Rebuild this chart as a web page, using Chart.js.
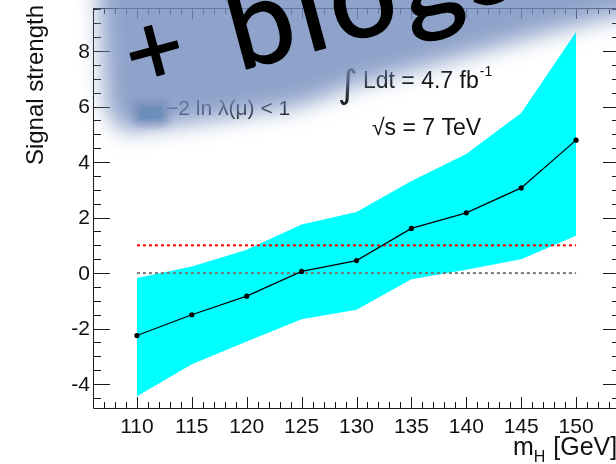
<!DOCTYPE html>
<html>
<head>
<meta charset="utf-8">
<script src="https://cdn.jsdelivr.net/npm/chart.js@4.4.1/dist/chart.umd.min.js"></script>
<style>
  html, body { margin: 0; padding: 0; background: #fff; overflow: hidden; }
  #wrap { width: 630px; height: 464px; }
</style>
</head>
<body>
<div id="wrap"><canvas id="c" width="630" height="464"></canvas></div>
<script>
// Higgs mass hypotheses (GeV)
const massPoints = [110, 115, 120, 125, 130, 135, 140, 145, 150];
// best-fit signal strength
const muBest  = [-2.25, -1.50, -0.83, 0.06, 0.45, 1.61, 2.17, 3.07, 4.79];
// -2 ln lambda(mu) < 1 interval
const muUpper = [-0.18, 0.24, 0.84, 1.75, 2.20, 3.32, 4.29, 5.77, 8.69];
const muLower = [-4.44, -3.28, -2.46, -1.66, -1.32, -0.22, 0.12, 0.50, 1.35];
// reference levels: SM expectation and background only
const muSM = 1;
const muBkg = 0;
// axis tick labels
const xTickLabels = ['110', '115', '120', '125', '130', '135', '140', '145', '150'];
const yTickLabels = ['-4', '-2', '0', '2', '4', '6', '8'];

const LABEL_FONT = '"Liberation Sans", Arial, Helvetica, sans-serif';

const rootFrame = {
  id: 'rootFrame',
  afterDraw(chart) {
    const ctx = chart.ctx;
    const a = chart.chartArea;
    const xs = chart.scales.x, ys = chart.scales.y;
    ctx.save();
    ctx.strokeStyle = '#1a1a1a';
    ctx.lineWidth = 1;
    ctx.beginPath();
    ctx.rect(a.left + 0.5, a.top + 0.5, a.right - a.left, a.bottom - a.top);
    ctx.stroke();

    // x ticks (inward, bottom and top)
    ctx.beginPath();
    for (let v = Math.ceil(xs.min); v <= xs.max; v++) {
      const px = Math.round(xs.getPixelForValue(v)) + 0.5;
      const len = (v % 5 === 0) ? 11 : 6;
      ctx.moveTo(px, a.bottom); ctx.lineTo(px, a.bottom - len);
      ctx.moveTo(px, a.top); ctx.lineTo(px, a.top + len);
    }
    // y ticks (inward, left and right)
    for (let v = Math.ceil(ys.min * 2) / 2; v <= ys.max; v += 0.5) {
      const py = Math.round(ys.getPixelForValue(v)) + 0.5;
      const len = (Math.abs(v % 2) < 1e-6) ? 17 : 8;
      ctx.moveTo(a.left, py); ctx.lineTo(a.left + len, py);
      ctx.moveTo(a.right, py); ctx.lineTo(a.right - len, py);
    }
    ctx.stroke();

    // tick labels
    ctx.fillStyle = '#111';
    ctx.font = '21px ' + LABEL_FONT;
    ctx.textAlign = 'center';
    ctx.textBaseline = 'alphabetic';
    xTickLabels.forEach(t => {
      ctx.fillText(t, xs.getPixelForValue(parseFloat(t)), 433);
    });
    ctx.textAlign = 'right';
    ctx.textBaseline = 'middle';
    yTickLabels.forEach(t => {
      ctx.fillText(t, 90, ys.getPixelForValue(parseFloat(t)) + 1);
    });

    // axis titles
    ctx.textBaseline = 'alphabetic';
    ctx.font = '24px ' + LABEL_FONT;
    ctx.save();
    ctx.translate(43, 5);
    ctx.rotate(-Math.PI / 2);
    ctx.textAlign = 'right';
    ctx.fillText('Signal strength', 0, 0);
    ctx.restore();

    ctx.textAlign = 'left';
    let x = 513;
    ctx.font = '25px ' + LABEL_FONT;
    ctx.fillText('m', x, 455);
    x += ctx.measureText('m').width;
    ctx.font = '16px ' + LABEL_FONT;
    ctx.fillText('H', x, 462);
    x += ctx.measureText('H').width + 1;
    ctx.font = '25px ' + LABEL_FONT;
    ctx.fillText(' [GeV]', x, 455);

    // legend entry
    ctx.fillStyle = '#00ffff';
    ctx.fillRect(140, 107, 22, 12);
    ctx.fillStyle = '#111';
    ctx.font = '21px ' + LABEL_FONT;
    ctx.fillText('\u22122 ln \u03bb(\u03bc) < 1', 166, 115);

    // luminosity and energy
    ctx.font = '38px "DejaVu Sans", sans-serif';
    ctx.fillText('\u222b', 338, 97);
    ctx.font = '23px ' + LABEL_FONT;
    ctx.fillText('Ldt = 4.7 fb', 363, 88);
    let w = ctx.measureText('Ldt = 4.7 fb').width;
    ctx.font = '14px ' + LABEL_FONT;
    ctx.fillText('-1', 363 + w + 1, 76);
    ctx.font = '23px ' + LABEL_FONT;
    ctx.fillText('\u221as = 7 TeV', 372, 135);
    ctx.restore();

    // bluish sticker shadow across the top
    ctx.save();
    ctx.filter = 'blur(11px)';
    ctx.fillStyle = 'rgba(118, 143, 190, 0.82)';
    ctx.beginPath();
    ctx.moveTo(96, -40);
    ctx.lineTo(700, -40);
    ctx.lineTo(700, 6);
    ctx.lineTo(616, 16);
    ctx.lineTo(550, 32);
    ctx.lineTo(450, 60);
    ctx.lineTo(360, 84);
    ctx.lineTo(300, 106);
    ctx.lineTo(200, 122);
    ctx.lineTo(122, 132);
    ctx.lineTo(106, 110);
    ctx.closePath();
    ctx.fill();
    // denser patch near the lower left corner of the sticker
    ctx.filter = 'blur(5px)';
    ctx.fillStyle = 'rgba(112, 136, 182, 0.85)';
    ctx.fillRect(134, 102, 34, 22);
    ctx.restore();

    // handwritten-style overlay
    ctx.save();
    ctx.translate(250, 68);
    ctx.rotate(-15 * Math.PI / 180);
    ctx.fillStyle = '#000';
    ctx.strokeStyle = '#000';
    ctx.lineWidth = 1.5;
    ctx.lineJoin = 'round';
    ctx.textBaseline = 'alphabetic';
    ctx.font = '118px Lato, "Open Sans", sans-serif';
    ctx.letterSpacing = '5px';
    ctx.textAlign = 'left';
    ctx.fillText('blogs', -12, 0);
    ctx.strokeText('blogs', -12, 0);
    ctx.letterSpacing = '0px';
    ctx.font = '100px Lato, "Open Sans", sans-serif';
    ctx.textAlign = 'center';
    ctx.fillText('+', -88, -8);
    ctx.strokeText('+', -88, -8);
    ctx.restore();
  }
};

const bandColor = '#00ffff';

new Chart(document.getElementById('c'), {
  type: 'line',
  data: {
    datasets: [
      {
        label: 'upper',
        data: massPoints.map((m, i) => ({ x: m, y: muUpper[i] })),
        borderWidth: 0,
        pointRadius: 0,
        backgroundColor: bandColor,
        fill: '+1',
        order: 10
      },
      {
        label: 'lower',
        data: massPoints.map((m, i) => ({ x: m, y: muLower[i] })),
        borderWidth: 0,
        pointRadius: 0,
        backgroundColor: bandColor,
        fill: false,
        order: 9
      },
      {
        label: 'SM',
        data: [{ x: massPoints[0], y: muSM }, { x: massPoints[massPoints.length - 1], y: muSM }],
        borderColor: '#ff0000',
        borderWidth: 2,
        borderDash: [3, 3],
        pointRadius: 0,
        fill: false,
        order: 3
      },
      {
        label: 'bkg',
        data: [{ x: massPoints[0], y: muBkg }, { x: massPoints[massPoints.length - 1], y: muBkg }],
        borderColor: '#777777',
        borderWidth: 2,
        borderDash: [3, 3],
        pointRadius: 0,
        fill: false,
        order: 2
      },
      {
        label: 'mu',
        data: massPoints.map((m, i) => ({ x: m, y: muBest[i] })),
        borderColor: '#000',
        borderWidth: 1.2,
        pointRadius: 2.6,
        pointBackgroundColor: '#000',
        pointBorderWidth: 0,
        fill: false,
        order: 1
      }
    ]
  },
  options: {
    responsive: false,
    animation: false,
    events: [],
    layout: { padding: { left: 93, right: 10, top: 8, bottom: 56 } },
    elements: { line: { tension: 0 } },
    plugins: { legend: { display: false }, tooltip: { enabled: false } },
    scales: {
      x: { type: 'linear', min: 106, max: 154, display: false },
      y: { type: 'linear', min: -4.86, max: 9.55, display: false }
    }
  },
  plugins: [rootFrame]
});
</script>
</body>
</html>
